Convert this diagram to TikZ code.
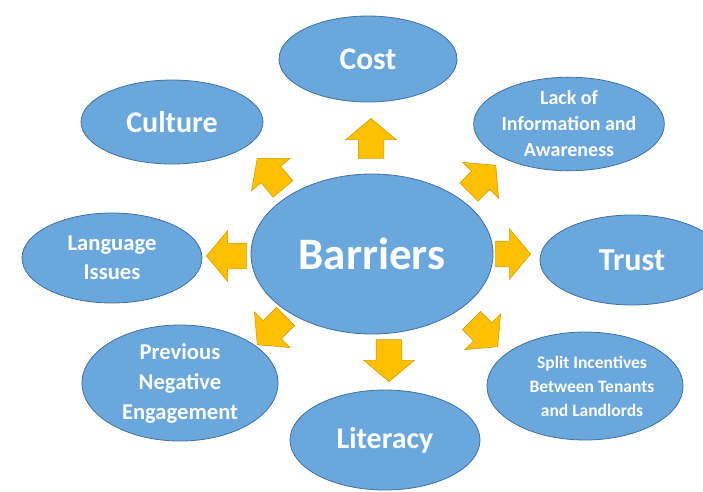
\documentclass[tikz,border=0pt]{standalone}
\usepackage{fontspec}
\setmainfont{Carlito}
\usetikzlibrary{shapes.geometric, shapes.arrows}

\definecolor{bubble}{RGB}{106,167,220}
\definecolor{bubbleline}{RGB}{65,113,156}
\definecolor{gold}{RGB}{255,192,0}
\definecolor{goldline}{RGB}{214,160,0}

\begin{document}
\begin{tikzpicture}[
  x=1pt, y=-1pt,
  bubble/.style={ellipse, draw=bubbleline, fill=bubble, line width=.8pt,
    text=white, font=\bfseries, align=center, inner sep=0pt},
  barrow/.style={single arrow, draw=goldline, fill=gold, line width=.6pt,
    minimum width=0pt, minimum height=40pt, inner xsep=0pt, inner ysep=12.5pt,
    single arrow head extend=12.5pt, single arrow tip angle=100, anchor=tip}]

  \useasboundingbox (0,0) rectangle (703,491);

  % centre and the eight outer bubbles
  \node[bubble, minimum width=242pt, minimum height=160pt,
    font=\bfseries\fontsize{45}{50}\selectfont] (bar) at (372,254) {Barriers};
  \node[bubble, minimum width=178pt, minimum height=86pt,
    font=\bfseries\fontsize{31.5}{36}\selectfont] (cost) at (368,59) {Cost};
  \node[bubble, minimum width=182pt, minimum height=84pt,
    font=\bfseries\fontsize{30}{34}\selectfont] (culture) at (172,122) {Culture};
  \node[bubble, minimum width=176pt, minimum height=92pt,
    font=\bfseries\fontsize{20}{26}\selectfont] (lack) at (569,124)
    {Lack of\\Information and\\Awareness};
  \node[bubble, minimum width=184pt, minimum height=90pt,
    font=\bfseries\fontsize{32}{36}\selectfont] (trust) at (632,260) {Trust};
  \node[bubble, minimum width=194pt, minimum height=108pt,
    font=\bfseries\fontsize{17.5}{24}\selectfont] (split) at (585,386)
    {\hspace*{14pt}Split Incentives\\\hspace*{14pt}Between Tenants\\\hspace*{14pt}and Landlords};
  \node[bubble, minimum width=190pt, minimum height=100pt,
    font=\bfseries\fontsize{30}{34}\selectfont] (literacy) at (385,440) {Literacy};
  \node[bubble, minimum width=196pt, minimum height=116pt,
    font=\bfseries\fontsize{22.6}{30}\selectfont] (prev) at (180,383)
    {Previous\\Negative\\Engagement};
  \node[bubble, minimum width=180pt, minimum height=90pt,
    font=\bfseries\fontsize{22.6}{29}\selectfont] (lang) at (112,258)
    {Language\\Issues};

  % block arrows pointing out of the centre
  \foreach \name/\tip/\ang/\len in {tocost/{(371,118)}/90/40, toculture/{(257,158)}/130/40,
      tolack/{(496,165)}/45/38, totrust/{(531,254)}/0/35, tosplit/{(498,347)}/-45/37,
      toliteracy/{(389,382)}/-90/42, toprev/{(257,345)}/-135/40, tolang/{(206,256)}/180/40}
    \node[barrow, rotate=\ang, minimum height=\len pt] (\name) at \tip {};

\end{tikzpicture}
\end{document}
